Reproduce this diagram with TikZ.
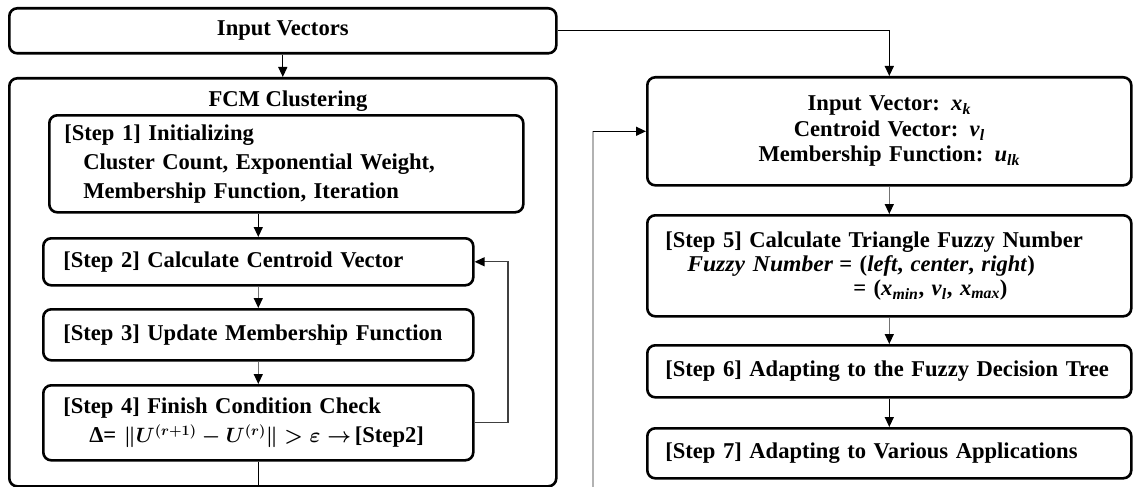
\documentclass[tikz,border=0pt]{standalone}
\usepackage{amsmath}
\usepackage{graphicx}
\usepackage{fontspec}
\setmainfont{Liberation Serif}
\usetikzlibrary{arrows.meta,calc}
\newcommand\fs[1]{\fontsize{22.6}{#1}\selectfont\bfseries}
\newcommand\bi[1]{\textit{#1}}
\newcommand\sbi[1]{\textsubscript{\itshape #1}}
\begin{document}
\begin{tikzpicture}[x=1pt,y=-1pt,
  box/.style={draw=black, line width=2.6pt, rounded corners=8pt, anchor=north west, font=\fs{27}},
  lbox/.style={box, align=left, inner ysep=0pt},
  arr/.style={line width=1.3pt, draw=black, -{Triangle[length=10pt,width=9pt,color=black]}},
  garr/.style={arr, draw=black!55},
  farr/.style={arr, draw=black!75},
  grayline/.style={draw=black!30, line width=1.8pt},
  plain/.style={line width=1.3pt, draw=black}]
\useasboundingbox (0,0) rectangle (1133,487);

% left column
\node[box, minimum width=547pt, minimum height=45pt] (inp) at (8,7) {Input Vectors};
\node[box, minimum width=547pt, minimum height=408pt] (fcm) at (8,77) {};
\node[font=\fs{27}] (fcmt) at (288,101) {FCM Clustering};

\node[lbox, font=\fs{29}, minimum width=474pt, minimum height=97pt, text width=444pt, inner xsep=15pt] (s1) at (48,114)
  {[Step 1] Initializing\\\hspace*{19pt}Cluster Count, Exponential Weight,\\\hspace*{19pt}Membership Function, Iteration};
\node[lbox, minimum width=430pt, minimum height=47pt, text width=390pt, inner xsep=20pt] (s2) at (42,237)
  {[Step 2] Calculate Centroid Vector};
\node[lbox, minimum width=430pt, minimum height=51pt, text width=390pt, inner xsep=20pt] (s3) at (42,308)
  {[Step 3] Update Membership Function};
\node[lbox, font=\fs{29}, minimum width=430pt, minimum height=75pt, text width=390pt, inner xsep=20pt] (s4) at (42,384)
  {[Step 4] Finish Condition Check\\\hspace*{26pt}Δ= {\boldmath$\|U^{(r+1)}-U^{(r)}\|>\varepsilon\rightarrow$}\,[Step2]};

% right column
\node[box, font=\fs{25.5}, align=center, minimum width=484pt, minimum height=108pt, text width=448pt, inner xsep=18pt] (rv) at (646,76)
  {Input Vector: \bi{x}\sbi{k}\\Centroid Vector: \bi{v}\sbi{l}\\Membership Function: \bi{u}\sbi{lk}};
\node[lbox, font=\fs{24}, minimum width=484pt, minimum height=101pt, text width=448pt, inner xsep=18pt] (s5) at (646,214)
  {[Step 5] Calculate Triangle Fuzzy Number\\
   \hspace*{22pt}\resizebox{146pt}{\height}{\bi{Fuzzy Number}}\hspace*{6pt}= (\bi{left}, \bi{center}, \bi{right})\\
   \hspace*{22pt}\hspace*{146pt}\hspace*{20pt}= (\bi{x}\sbi{min}, \bi{v}\sbi{l}, \bi{x}\sbi{max})};
\node[lbox, minimum width=484pt, minimum height=52pt, text width=448pt, inner xsep=18pt] (s6) at (646,344)
  {[Step 6] Adapting to the Fuzzy Decision Tree};
\node[lbox, minimum width=484pt, minimum height=50pt, text width=448pt, inner xsep=18pt] (s7) at (646,427)
  {[Step 7] Adapting to Various Applications};

% connectors
\coordinate (bot) at (0,487);
\coordinate (fb) at (508,0);
\coordinate (gx) at (593,487);
\draw[arr] (inp.south) -- (fcm.north);
\draw[arr] (s1.south -| s2.north) -- (s2.north);
\draw[garr] (s2.south) -- (s3.north);
\draw[garr] (s3.south) -- (s4.north);
\draw[farr] (s4.east) -- (s4.east -| fb) -- (s2.east -| fb) -- (s2.east);
\draw[plain] (s4.south) -- (s4.south |- bot);
\draw[arr] (inp.east) -| (rv.north);
\draw[grayline] (gx) -- (gx |- rv.west);
\draw[arr] (gx |- rv.west) -- (rv.west);
\draw[garr] (rv.south) -- (s5.north);
\draw[garr] (s5.south) -- (s6.north);
\draw[arr] (s6.south) -- (s7.north);
\end{tikzpicture}
\end{document}
